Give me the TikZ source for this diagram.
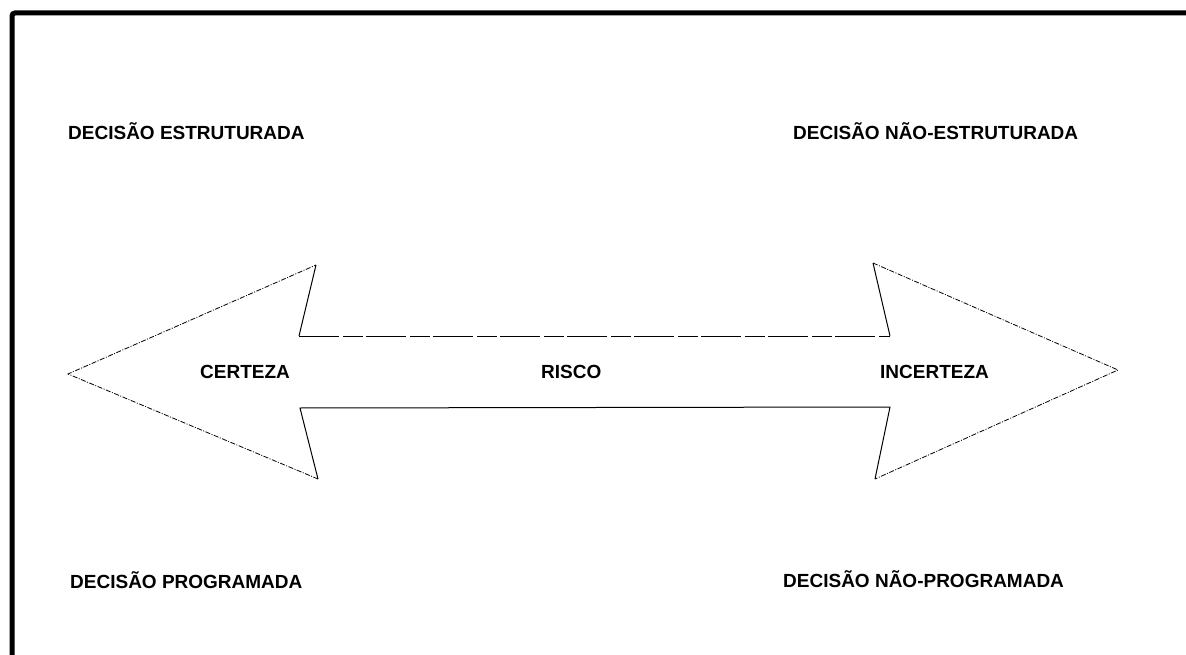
\documentclass[tikz,border=0pt]{standalone}
\usepackage{fontspec}
\setmainfont{Liberation Sans}
\begin{document}
\begin{tikzpicture}[x=1pt,y=-1pt,
  lbl/.style={font=\fontsize{19}{21}\selectfont\bfseries, inner sep=0pt, anchor=west},
  headline/.style={line width=0.8pt, dash pattern=on 5pt off 1.5pt on 1pt off 1.5pt},
  solidline/.style={line width=1pt},
  shaftline/.style={line width=0.9pt, dash pattern=on 40pt off 4pt on 20pt off 3pt}]
\useasboundingbox (0,0) rectangle (1186,655);
% frame (only top and left visible)
\draw[line width=5pt, rounded corners=3pt] (12,660) -- (12,13) -- (1190,13);
% arrow outline
\coordinate (tl) at (68,374);
\coordinate (ulb) at (316,265);
\coordinate (uln) at (299,336);
\coordinate (urn) at (890,336);
\coordinate (urb) at (873,263);
\coordinate (tr) at (1118,370);
\coordinate (lrb) at (875,479);
\coordinate (lrn) at (890,407);
\coordinate (lln) at (300,408);
\coordinate (llb) at (318,479);
\draw[headline] (llb) -- (tl) -- (ulb);
\draw[solidline] (ulb) -- (uln);
\draw[shaftline] (uln) -- (urn);
\draw[solidline] (urn) -- (urb);
\draw[headline] (urb) -- (tr) -- (lrb);
\draw[solidline] (lrb) -- (lrn) -- (lln) -- (llb);
% labels
\node[lbl] (de) at (68,131) {DECISÃO ESTRUTURADA};
\node[lbl] (dne) at (793,131) {DECISÃO NÃO-ESTRUTURADA};
\node[lbl] (dp) at (70,580) {DECISÃO PROGRAMADA};
\node[lbl] (dnp) at (783,579) {DECISÃO NÃO-PROGRAMADA};
\node[lbl] (cert) at (200,372) {CERTEZA};
\node[lbl] (risco) at (541,372) {RISCO};
\node[lbl] (inc) at (880,372) {INCERTEZA};
\end{tikzpicture}
\end{document}
